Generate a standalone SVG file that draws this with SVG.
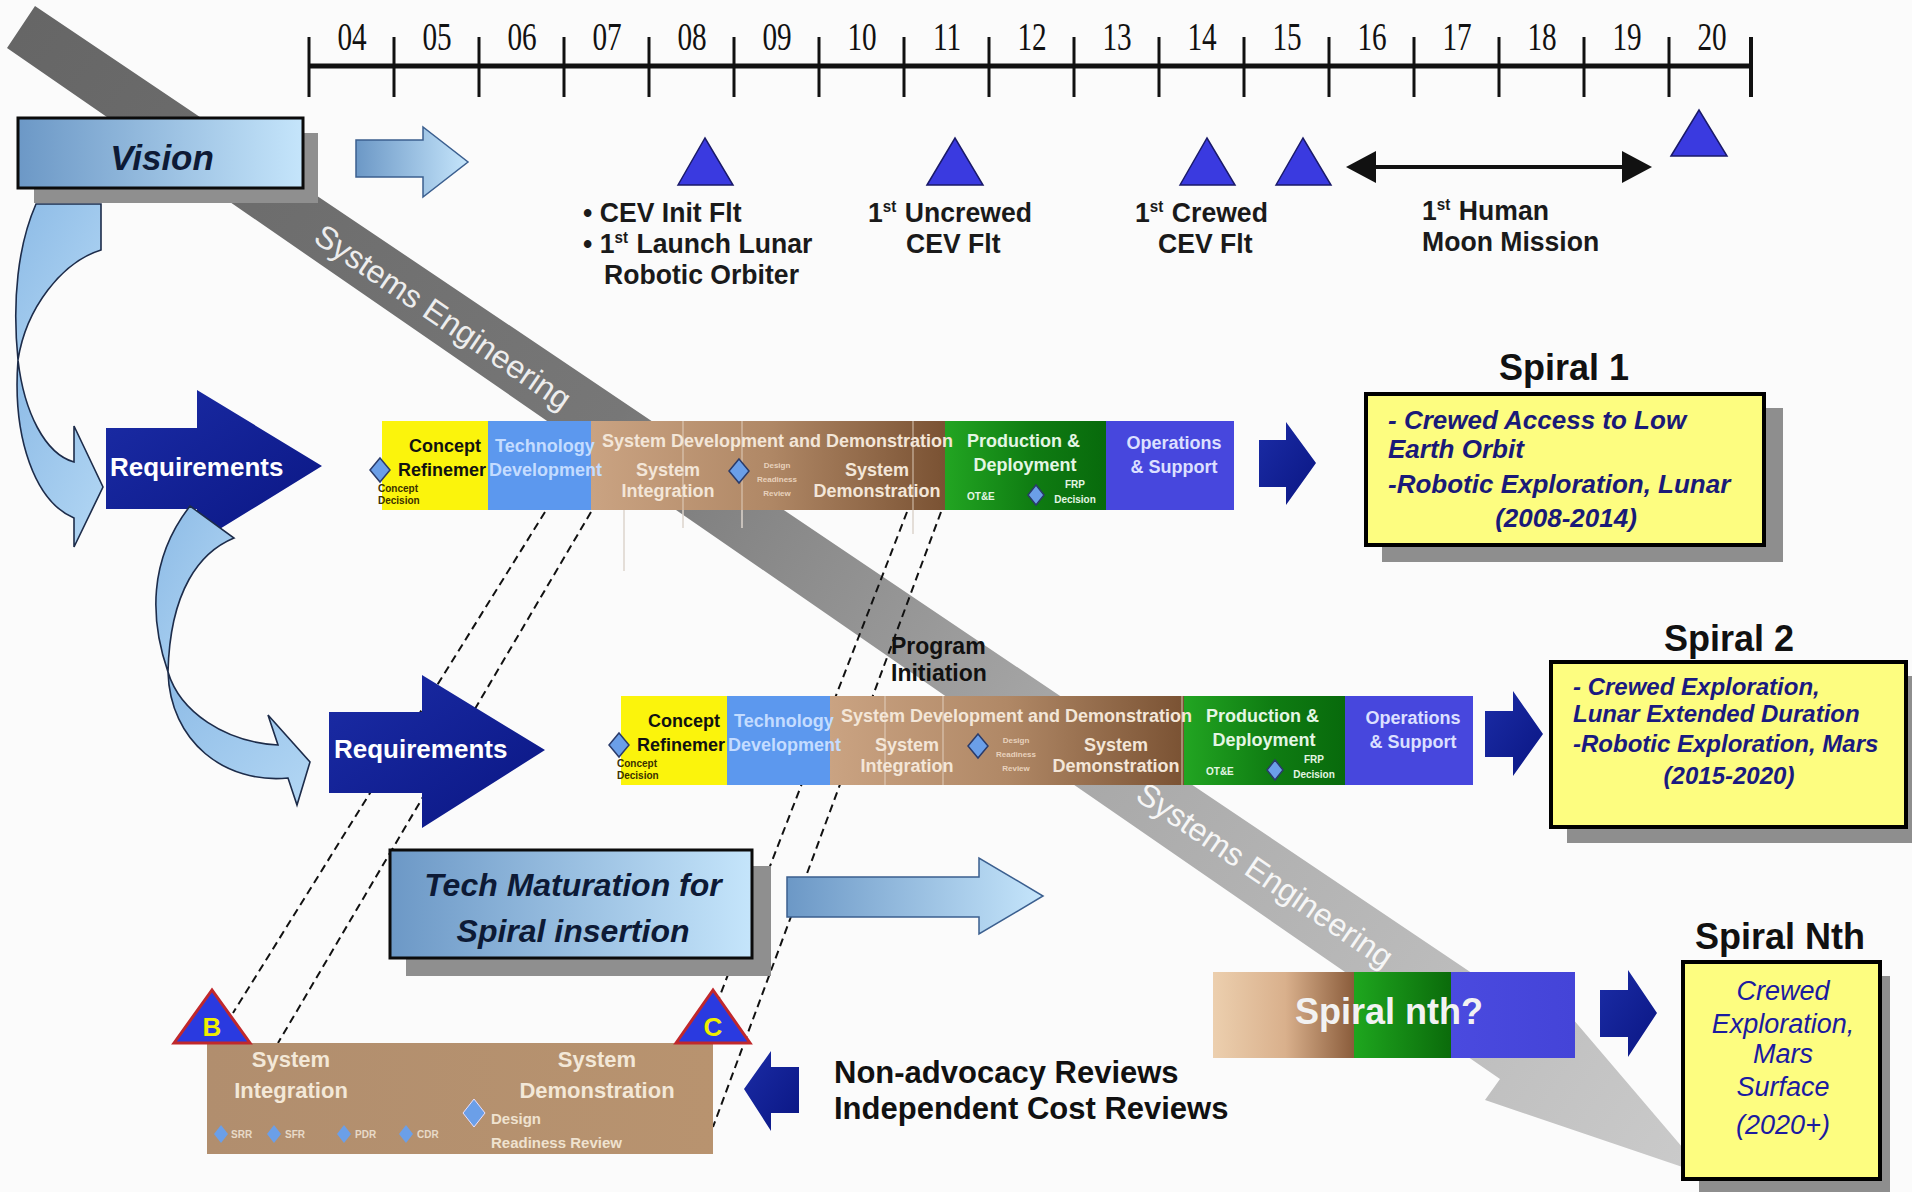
<svg xmlns="http://www.w3.org/2000/svg" width="1912" height="1192" viewBox="0 0 1912 1192">
<defs>
<style>
.t{font-family:"Liberation Sans",Arial,sans-serif}
.b{font-weight:bold}
.i{font-style:italic}
.yr{font-family:"Liberation Serif","Times New Roman",serif;font-size:39px;fill:#111;text-anchor:middle}
.ms{font-family:"Liberation Sans",Arial,sans-serif;font-weight:bold;font-size:28px;fill:#1a1a1a}
.ph{font-family:"Liberation Sans",Arial,sans-serif;font-weight:bold;font-size:18px}
.sm{font-family:"Liberation Sans",Arial,sans-serif;font-weight:bold;font-size:10px}
.req{font-family:"Liberation Sans",Arial,sans-serif;font-weight:bold;font-size:26px;fill:#fff}
.ttl{font-family:"Liberation Sans",Arial,sans-serif;font-weight:bold;font-size:36px;fill:#111;text-anchor:middle}
.dash{fill:none;stroke:#111;stroke-width:2;stroke-dasharray:8 5}
.navy{fill:url(#gNavy)}
.dia{fill:#6b9fe8;stroke:#2a3b6a;stroke-width:1.5}
.tri{fill:#3a3ae0;stroke:#1a1a6a;stroke-width:1.5}
.swo{fill:url(#gSwoosh);stroke:#1d2c4a;stroke-width:1.6}
.se{font-family:"Liberation Sans",Arial,sans-serif;font-size:32px;text-anchor:middle}
</style>
<linearGradient id="gBand" gradientUnits="userSpaceOnUse" x1="21" y1="27" x2="1706" y2="1175">
<stop offset="0" stop-color="#666"/><stop offset="0.35" stop-color="#777"/><stop offset="0.6" stop-color="#a5a5a5"/><stop offset="1" stop-color="#cbcbcb"/>
</linearGradient>
<linearGradient id="gBrown" x1="0" y1="0" x2="1" y2="0">
<stop offset="0" stop-color="#caa382"/><stop offset="0.5" stop-color="#b08866"/><stop offset="1" stop-color="#7a5233"/>
</linearGradient>
<linearGradient id="gGreen" x1="0" y1="0" x2="1" y2="0">
<stop offset="0" stop-color="#22a522"/><stop offset="0.55" stop-color="#0f7c12"/><stop offset="1" stop-color="#086a0c"/>
</linearGradient>
<linearGradient id="gLB" x1="0" y1="0" x2="1" y2="0">
<stop offset="0" stop-color="#6c98c6"/><stop offset="1" stop-color="#c5e5fb"/>
</linearGradient>
<linearGradient id="gSwoosh" x1="0" y1="0" x2="1" y2="1">
<stop offset="0" stop-color="#8dbbe6"/><stop offset="1" stop-color="#b3d7f4"/>
</linearGradient>
<linearGradient id="gNavy" x1="0" y1="0" x2="1" y2="1">
<stop offset="0" stop-color="#1b2ca6"/><stop offset="1" stop-color="#0a1683"/>
</linearGradient>
<linearGradient id="gNth" x1="0" y1="0" x2="1" y2="0">
<stop offset="0" stop-color="#eccfae"/><stop offset="0.2" stop-color="#d9b08c"/><stop offset="0.39" stop-color="#8a5c3b"/>
<stop offset="0.39" stop-color="#1ea61e"/><stop offset="0.657" stop-color="#0b6b0b"/>
<stop offset="0.657" stop-color="#4a4adf"/><stop offset="1" stop-color="#4444d8"/>
</linearGradient>
<linearGradient id="gBC" x1="0" y1="0" x2="1" y2="0">
<stop offset="0" stop-color="#b18e6e"/><stop offset="1" stop-color="#b8936f"/>
</linearGradient>
</defs>
<rect width="1912" height="1192" fill="#fbfbfb"/>

<g id="systems-engineering">
<polygon points="35,6 1540,1019 1555,998 1706,1175 1485,1100 1500,1079 7,48" fill="url(#gBand)"/>
<text class="se" fill="#ededed" transform="translate(443,317) rotate(34.3)" dy="11">Systems Engineering</text>
<text class="se" fill="#f6f6f6" transform="translate(1265,875) rotate(34.3)" dy="11">Systems Engineering</text>
</g>

<g id="timeline">
<line x1="309" y1="66" x2="1751" y2="66" stroke="#111" stroke-width="5"/>
<g stroke="#111" stroke-width="3">
<line x1="309" y1="37" x2="309" y2="97"/><line x1="394" y1="37" x2="394" y2="97"/><line x1="479" y1="37" x2="479" y2="97"/>
<line x1="564" y1="37" x2="564" y2="97"/><line x1="649" y1="37" x2="649" y2="97"/><line x1="734" y1="37" x2="734" y2="97"/>
<line x1="819" y1="37" x2="819" y2="97"/><line x1="904" y1="37" x2="904" y2="97"/><line x1="989" y1="37" x2="989" y2="97"/>
<line x1="1074" y1="37" x2="1074" y2="97"/><line x1="1159" y1="37" x2="1159" y2="97"/><line x1="1244" y1="37" x2="1244" y2="97"/>
<line x1="1329" y1="37" x2="1329" y2="97"/><line x1="1414" y1="37" x2="1414" y2="97"/><line x1="1499" y1="37" x2="1499" y2="97"/>
<line x1="1584" y1="37" x2="1584" y2="97"/><line x1="1669" y1="37" x2="1669" y2="97"/>
<line x1="1751" y1="37" x2="1751" y2="97" stroke-width="4"/>
</g>
<text class="yr" transform="translate(352 50) scale(0.75 1)">04</text><text class="yr" transform="translate(437 50) scale(0.75 1)">05</text>
<text class="yr" transform="translate(522 50) scale(0.75 1)">06</text><text class="yr" transform="translate(607 50) scale(0.75 1)">07</text>
<text class="yr" transform="translate(692 50) scale(0.75 1)">08</text><text class="yr" transform="translate(777 50) scale(0.75 1)">09</text>
<text class="yr" transform="translate(862 50) scale(0.75 1)">10</text><text class="yr" transform="translate(947 50) scale(0.75 1)">11</text>
<text class="yr" transform="translate(1032 50) scale(0.75 1)">12</text><text class="yr" transform="translate(1117 50) scale(0.75 1)">13</text>
<text class="yr" transform="translate(1202 50) scale(0.75 1)">14</text><text class="yr" transform="translate(1287 50) scale(0.75 1)">15</text>
<text class="yr" transform="translate(1372 50) scale(0.75 1)">16</text><text class="yr" transform="translate(1457 50) scale(0.75 1)">17</text>
<text class="yr" transform="translate(1542 50) scale(0.75 1)">18</text><text class="yr" transform="translate(1627 50) scale(0.75 1)">19</text>
<text class="yr" transform="translate(1712 50) scale(0.75 1)">20</text>
</g>

<g id="milestones">
<polygon class="tri" points="678,185 705,138 733,185"/>
<polygon class="tri" points="927,185 955,138 983,185"/>
<polygon class="tri" points="1180,185 1207,138 1235,185"/>
<polygon class="tri" points="1276,185 1303,138 1331,185"/>
<polygon class="tri" points="1671,156 1699,110 1727,156"/>
<line x1="1372" y1="167" x2="1626" y2="167" stroke="#111" stroke-width="4"/>
<polygon points="1346,167 1376,151 1376,183" fill="#111"/>
<polygon points="1652,167 1622,151 1622,183" fill="#111"/>
<text class="ms" transform="translate(583 222) scale(0.95 1)">• CEV Init Flt</text>
<text class="ms" transform="translate(583 253) scale(0.95 1)">• 1<tspan font-size="16" dy="-10">st</tspan><tspan dy="10" dx="9">Launch Lunar</tspan></text>
<text class="ms" transform="translate(604 284) scale(0.95 1)">Robotic Orbiter</text>
<text class="ms" transform="translate(868 222) scale(0.95 1)">1<tspan font-size="16" dy="-10">st</tspan><tspan dy="10" dx="9">Uncrewed</tspan></text>
<text class="ms" transform="translate(906 253) scale(0.95 1)">CEV Flt</text>
<text class="ms" transform="translate(1135 222) scale(0.95 1)">1<tspan font-size="16" dy="-10">st</tspan><tspan dy="10" dx="9">Crewed</tspan></text>
<text class="ms" transform="translate(1158 253) scale(0.95 1)">CEV Flt</text>
<text class="ms" transform="translate(1422 220) scale(0.95 1)">1<tspan font-size="16" dy="-10">st</tspan><tspan dy="10" dx="9">Human</tspan></text>
<text class="ms" transform="translate(1422 251) scale(0.95 1)">Moon Mission</text>
</g>

<g id="connectors">
<line class="dash" x1="545" y1="512" x2="233" y2="1013"/>
<line class="dash" x1="591" y1="512" x2="278" y2="1043"/>
<line class="dash" x1="907" y1="512" x2="719" y2="998"/>
<line class="dash" x1="941" y1="512" x2="713" y2="1127"/>
<g stroke="#ddd5cc" stroke-width="1.5">
<line x1="624" y1="510" x2="624" y2="571"/><line x1="683" y1="510" x2="683" y2="528"/>
<line x1="742" y1="510" x2="742" y2="528"/><line x1="913" y1="510" x2="913" y2="534"/>
</g>
</g>

<g id="swoosh-1">
<path class="swo" d="M36 204 L101 204 L101 250 C62 262 26 308 18 360 C12 300 18 245 36 204 Z"/>
<path class="swo" d="M18 360 C24 412 45 454 74 462 L74 426 L103 487 L74 547 L74 518 C36 502 12 440 18 360 Z"/>
</g>

<g id="vision">
<rect x="34" y="133" width="284" height="70" fill="#8f8f8f"/>
<rect x="18" y="118" width="285" height="70" fill="url(#gLB)" stroke="#0b0b0b" stroke-width="3"/>
<text class="t b i" x="162" y="170" font-size="35" fill="#0d1a36" text-anchor="middle">Vision</text>
</g>

<g id="vision-arrow">
<polygon points="356,140 423,140 423,127 468,162 423,197 423,177 356,177" fill="url(#gLB)" stroke="#3b5f8f" stroke-width="1.5"/>
</g>

<g id="requirements-1">
<polygon class="navy" points="106,428 197,428 197,390 322,466 197,543 197,509 106,509"/>
<text class="req" x="110" y="476">Requirements</text>
</g>

<g id="swoosh-2">
<path class="swo" d="M190 506 L234 538 C200 552 170 590 168 672 C150 620 148 560 190 506 Z"/>
<path class="swo" d="M168 672 C180 712 225 742 278 745 L268 715 L310 762 L297 805 L288 778 C225 784 170 742 168 672 Z"/>
</g>

<g id="requirements-2">
<polygon class="navy" points="329,712 422,712 422,675 545,750 422,828 422,793 329,793"/>
<text class="req" x="334" y="758">Requirements</text>
</g>

<g id="spiral1-phases" transform="translate(382,421)">
<rect x="0" y="0" width="106" height="89" fill="#fbf40c"/>
<rect x="106" y="0" width="103" height="89" fill="#5c98ee"/>
<rect x="209" y="0" width="354" height="89" fill="url(#gBrown)"/>
<rect x="563" y="0" width="161" height="89" fill="url(#gGreen)"/>
<rect x="724" y="0" width="128" height="89" fill="#4747dd"/>
<g stroke="#e9dccd" stroke-width="1.2" opacity="0.7"><line x1="301" y1="0" x2="301" y2="89"/><line x1="360" y1="0" x2="360" y2="89"/><line x1="531" y1="0" x2="531" y2="89"/></g>
<text class="ph" x="63" y="31" fill="#111" text-anchor="middle">Concept</text>
<text class="ph" x="16" y="55" fill="#111">Refinemer</text>
<path class="dia" d="M-2,37 L8,49 L-2,61 L-12,49 Z"/>
<text class="sm" x="-4" y="71" fill="#3a3000">Concept</text>
<text class="sm" x="-4" y="83" fill="#3a3000">Decision</text>
<text class="ph" x="113" y="31" fill="#c4dcff">Technology</text>
<text class="ph" x="107" y="55" fill="#c4dcff">Development</text>
<text class="ph" x="220" y="26" fill="#f3e6d8">System Development and Demonstration</text>
<text class="ph" x="286" y="55" fill="#f3e6d8" text-anchor="middle">System</text>
<text class="ph" x="286" y="76" fill="#f3e6d8" text-anchor="middle">Integration</text>
<path class="dia" d="M357,38 L367,50 L357,62 L347,50 Z"/>
<text class="t b" x="395" y="47" font-size="8" fill="#e8d2bd" text-anchor="middle">Design</text>
<text class="t b" x="395" y="61" font-size="8" fill="#e8d2bd" text-anchor="middle">Readiness</text>
<text class="t b" x="395" y="75" font-size="8" fill="#e8d2bd" text-anchor="middle">Review</text>
<text class="ph" x="495" y="55" fill="#f3e6d8" text-anchor="middle">System</text>
<text class="ph" x="495" y="76" fill="#f3e6d8" text-anchor="middle">Demonstration</text>
<text class="ph" x="585" y="26" fill="#e4f6e4">Production &amp;</text>
<text class="ph" x="643" y="50" fill="#e4f6e4" text-anchor="middle">Deployment</text>
<text class="sm" x="585" y="79" fill="#e4f6e4">OT&amp;E</text>
<path class="dia" d="M654,64 L662,74 L654,84 L646,74 Z"/>
<text class="sm" x="693" y="67" fill="#e4f6e4" text-anchor="middle">FRP</text>
<text class="sm" x="693" y="82" fill="#e4f6e4" text-anchor="middle">Decision</text>
<text class="ph" x="792" y="28" fill="#dce0ff" text-anchor="middle">Operations</text>
<text class="ph" x="792" y="52" fill="#dce0ff" text-anchor="middle">&amp; Support</text>
</g>

<g id="spiral1-arrow">
<polygon class="navy" points="1259,440 1286,440 1286,422 1316,463 1286,505 1286,487 1259,487"/>
</g>

<g id="spiral1">
<text class="ttl" x="1564" y="380">Spiral 1</text>
<rect x="1382" y="408" width="401" height="154" fill="#8e8e8e"/>
<rect x="1366" y="394" width="398" height="151" fill="#fdfd80" stroke="#000" stroke-width="4"/>
<g class="t b i" font-size="26" fill="#1a1a78">
<text x="1388" y="429">- Crewed Access to Low</text>
<text x="1388" y="458">Earth Orbit</text>
<text x="1388" y="493">-Robotic Exploration, Lunar</text>
<text x="1566" y="527" text-anchor="middle">(2008-2014)</text>
</g>
</g>

<g id="program-initiation">
<text class="t b" x="891" y="654" font-size="23" fill="#111">Program</text>
<text class="t b" x="891" y="681" font-size="23" fill="#111">Initiation</text>
</g>

<g id="spiral2-phases" transform="translate(621,696)">
<rect x="0" y="0" width="106" height="89" fill="#fbf40c"/>
<rect x="106" y="0" width="103" height="89" fill="#5c98ee"/>
<rect x="209" y="0" width="354" height="89" fill="url(#gBrown)"/>
<rect x="563" y="0" width="161" height="89" fill="url(#gGreen)"/>
<rect x="724" y="0" width="128" height="89" fill="#4747dd"/>
<g stroke="#e9dccd" stroke-width="1.2" opacity="0.7"><line x1="264" y1="0" x2="264" y2="89"/><line x1="322" y1="0" x2="322" y2="89"/><line x1="561" y1="0" x2="561" y2="89"/></g>
<text class="ph" x="63" y="31" fill="#111" text-anchor="middle">Concept</text>
<text class="ph" x="16" y="55" fill="#111">Refinemer</text>
<path class="dia" d="M-2,37 L8,49 L-2,61 L-12,49 Z"/>
<text class="sm" x="-4" y="71" fill="#3a3000">Concept</text>
<text class="sm" x="-4" y="83" fill="#3a3000">Decision</text>
<text class="ph" x="113" y="31" fill="#c4dcff">Technology</text>
<text class="ph" x="107" y="55" fill="#c4dcff">Development</text>
<text class="ph" x="220" y="26" fill="#f3e6d8">System Development and Demonstration</text>
<text class="ph" x="286" y="55" fill="#f3e6d8" text-anchor="middle">System</text>
<text class="ph" x="286" y="76" fill="#f3e6d8" text-anchor="middle">Integration</text>
<path class="dia" d="M357,38 L367,50 L357,62 L347,50 Z"/>
<text class="t b" x="395" y="47" font-size="8" fill="#e8d2bd" text-anchor="middle">Design</text>
<text class="t b" x="395" y="61" font-size="8" fill="#e8d2bd" text-anchor="middle">Readiness</text>
<text class="t b" x="395" y="75" font-size="8" fill="#e8d2bd" text-anchor="middle">Review</text>
<text class="ph" x="495" y="55" fill="#f3e6d8" text-anchor="middle">System</text>
<text class="ph" x="495" y="76" fill="#f3e6d8" text-anchor="middle">Demonstration</text>
<text class="ph" x="585" y="26" fill="#e4f6e4">Production &amp;</text>
<text class="ph" x="643" y="50" fill="#e4f6e4" text-anchor="middle">Deployment</text>
<text class="sm" x="585" y="79" fill="#e4f6e4">OT&amp;E</text>
<path class="dia" d="M654,64 L662,74 L654,84 L646,74 Z"/>
<text class="sm" x="693" y="67" fill="#e4f6e4" text-anchor="middle">FRP</text>
<text class="sm" x="693" y="82" fill="#e4f6e4" text-anchor="middle">Decision</text>
<text class="ph" x="792" y="28" fill="#dce0ff" text-anchor="middle">Operations</text>
<text class="ph" x="792" y="52" fill="#dce0ff" text-anchor="middle">&amp; Support</text>
</g>

<g id="spiral2-arrow">
<polygon class="navy" points="1485,711 1513,711 1513,691 1543,734 1513,776 1513,757 1485,757"/>
</g>

<g id="spiral2">
<text class="ttl" x="1729" y="651">Spiral 2</text>
<rect x="1567" y="676" width="345" height="167" fill="#8e8e8e"/>
<rect x="1551" y="662" width="355" height="165" fill="#fdfd80" stroke="#000" stroke-width="4"/>
<g class="t b i" font-size="24" fill="#1a1a80">
<text x="1573" y="695">- Crewed Exploration,</text>
<text x="1573" y="722">Lunar Extended Duration</text>
<text x="1573" y="752">-Robotic Exploration, Mars</text>
<text x="1729" y="784" text-anchor="middle">(2015-2020)</text>
</g>
</g>

<g id="tech-maturation">
<rect x="406" y="866" width="365" height="110" fill="#8f8f8f"/>
<rect x="390" y="850" width="362" height="108" fill="url(#gLB)" stroke="#0b0b0b" stroke-width="3"/>
<text class="t b i" x="573" y="896" font-size="32" fill="#0d1a36" text-anchor="middle">Tech Maturation for</text>
<text class="t b i" x="573" y="942" font-size="32" fill="#0d1a36" text-anchor="middle">Spiral insertion</text>
</g>

<g id="tech-arrow">
<polygon points="787,877 979,877 979,858 1043,896 979,934 979,917 787,917" fill="url(#gLB)" stroke="#3b5f8f" stroke-width="1.5"/>
</g>

<g id="spiral-nth-bar">
<rect x="1213" y="972" width="362" height="86" fill="url(#gNth)"/>
<text class="t b" x="1389" y="1024" font-size="36" fill="#f2f2f2" text-anchor="middle">Spiral nth?</text>
</g>

<g id="spiral-nth-arrow">
<polygon class="navy" points="1600,990 1628,990 1628,970 1657,1013 1628,1057 1628,1037 1600,1037"/>
</g>

<g id="spiral-nth">
<text class="ttl" x="1780" y="949">Spiral Nth</text>
<rect x="1699" y="976" width="191" height="216" fill="#8e8e8e"/>
<rect x="1683" y="962" width="197" height="217" fill="#fdfd80" stroke="#000" stroke-width="4"/>
<g class="t i" font-size="27" fill="#1b1ba0" text-anchor="middle">
<text x="1783" y="1000">Crewed</text>
<text x="1783" y="1033">Exploration,</text>
<text x="1783" y="1063">Mars</text>
<text x="1783" y="1096">Surface</text>
<text x="1783" y="1134">(2020+)</text>
</g>
</g>

<g id="milestone-bc">
<rect x="207" y="1043" width="506" height="111" fill="url(#gBC)"/>
<g class="t b" font-size="22" fill="#f3e8d8" text-anchor="middle">
<text x="291" y="1067">System</text>
<text x="291" y="1098">Integration</text>
<text x="597" y="1067">System</text>
<text x="597" y="1098">Demonstration</text>
</g>
<path class="dia" d="M221,1125 L228,1134 L221,1143 L214,1134 Z" style="stroke:none"/>
<path class="dia" d="M274,1125 L281,1134 L274,1143 L267,1134 Z" style="stroke:none"/>
<path class="dia" d="M344,1125 L351,1134 L344,1143 L337,1134 Z" style="stroke:none"/>
<path class="dia" d="M406,1125 L413,1134 L406,1143 L399,1134 Z" style="stroke:none"/>
<g class="sm" fill="#e8dac8">
<text x="231" y="1138">SRR</text><text x="285" y="1138">SFR</text><text x="355" y="1138">PDR</text><text x="417" y="1138">CDR</text>
</g>
<path class="dia" d="M474,1099 L485,1113 L474,1127 L463,1113 Z" style="stroke:#e8e0ff;stroke-width:1"/>
<text class="t b" x="491" y="1124" font-size="15" fill="#efe2cf">Design</text>
<text class="t b" x="491" y="1148" font-size="15" fill="#efe2cf">Readiness Review</text>
<polygon points="174,1043 212,990 250,1043" fill="#2a3ae0" stroke="#c0282c" stroke-width="3"/>
<polygon points="676,1043 713,990 750,1043" fill="#2a3ae0" stroke="#c0282c" stroke-width="3"/>
<text class="t b" x="212" y="1036" font-size="26" fill="#f0ee00" text-anchor="middle">B</text>
<text class="t b" x="713" y="1036" font-size="26" fill="#f0ee00" text-anchor="middle">C</text>
</g>

<g id="reviews-arrow">
<polygon class="navy" points="799,1067 771,1067 771,1051 744,1089 771,1131 771,1113 799,1113"/>
</g>

<g id="reviews">
<text class="t b" x="834" y="1083" font-size="31" fill="#111">Non-advocacy Reviews</text>
<text class="t b" x="834" y="1119" font-size="31" fill="#111">Independent Cost Reviews</text>
</g>
</svg>
